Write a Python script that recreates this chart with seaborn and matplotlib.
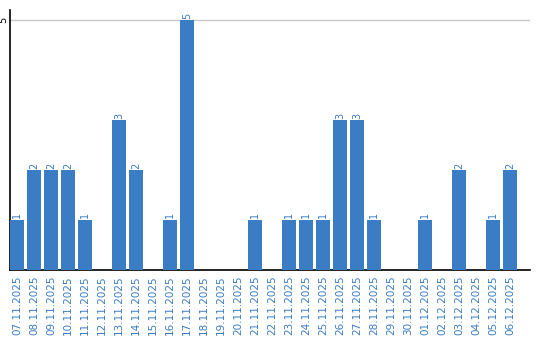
import matplotlib
matplotlib.use("Agg")
import matplotlib.pyplot as plt
import seaborn as sns
import pandas as pd

dates = ["07.11.2025", "08.11.2025", "09.11.2025", "10.11.2025", "11.11.2025",
         "12.11.2025", "13.11.2025", "14.11.2025", "15.11.2025", "16.11.2025",
         "17.11.2025", "18.11.2025", "19.11.2025", "20.11.2025", "21.11.2025",
         "22.11.2025", "23.11.2025", "24.11.2025", "25.11.2025", "26.11.2025",
         "27.11.2025", "28.11.2025", "29.11.2025", "30.11.2025", "01.12.2025",
         "02.12.2025", "03.12.2025", "04.12.2025", "05.12.2025", "06.12.2025"]
counts = [1, 2, 2, 2, 1, 0, 3, 2, 0, 1,
          5, 0, 0, 0, 1, 0, 1, 1, 1, 3,
          3, 1, 0, 0, 1, 0, 2, 0, 1, 2]
y_ticks = [5]

bar_color = "#3b7dc4"
text_color = "#3a7cc3"

sns.set_theme(style="white")
plt.rcParams['font.family'] = ['DejaVu Sans']

df = pd.DataFrame({"date": dates, "count": counts})

fig = plt.figure(figsize=(5.4, 3.4), dpi=100)
ax = fig.add_axes([10/540, 70/340, 520/540, 260/340])

sns.barplot(data=df, x="date", y="count", color=bar_color, width=14/17,
            saturation=1, ax=ax, zorder=3, linewidth=0)

for i, v in enumerate(counts):
    if v > 0:
        ax.text(i, v + 0.03, str(v), rotation=90, ha="center", va="bottom",
                fontsize=7, color=text_color)

ax.set_xlim(-0.41, 30.18)
ax.set_ylim(0, 5.2)
ax.set_yticks(y_ticks)
ax.set_yticklabels([str(t) for t in y_ticks], rotation=90, va="center",
                   ha="right", fontsize=7)
ax.yaxis.grid(True, color="#c8c8c8", linewidth=1, zorder=0)
ax.tick_params(axis="y", length=0, pad=1, colors="black")
ax.tick_params(axis="x", length=0, pad=4)
ax.set_xticks(range(len(dates)))
ax.set_xticklabels(dates, rotation=90, fontsize=7.5, color=text_color)
ax.set_xlabel("")
ax.set_ylabel("")
for s in ["top", "right"]:
    ax.spines[s].set_visible(False)
for s in ["left", "bottom"]:
    ax.spines[s].set_color("black")
    ax.spines[s].set_linewidth(1.2)

fig.savefig("out.png", dpi=100)
